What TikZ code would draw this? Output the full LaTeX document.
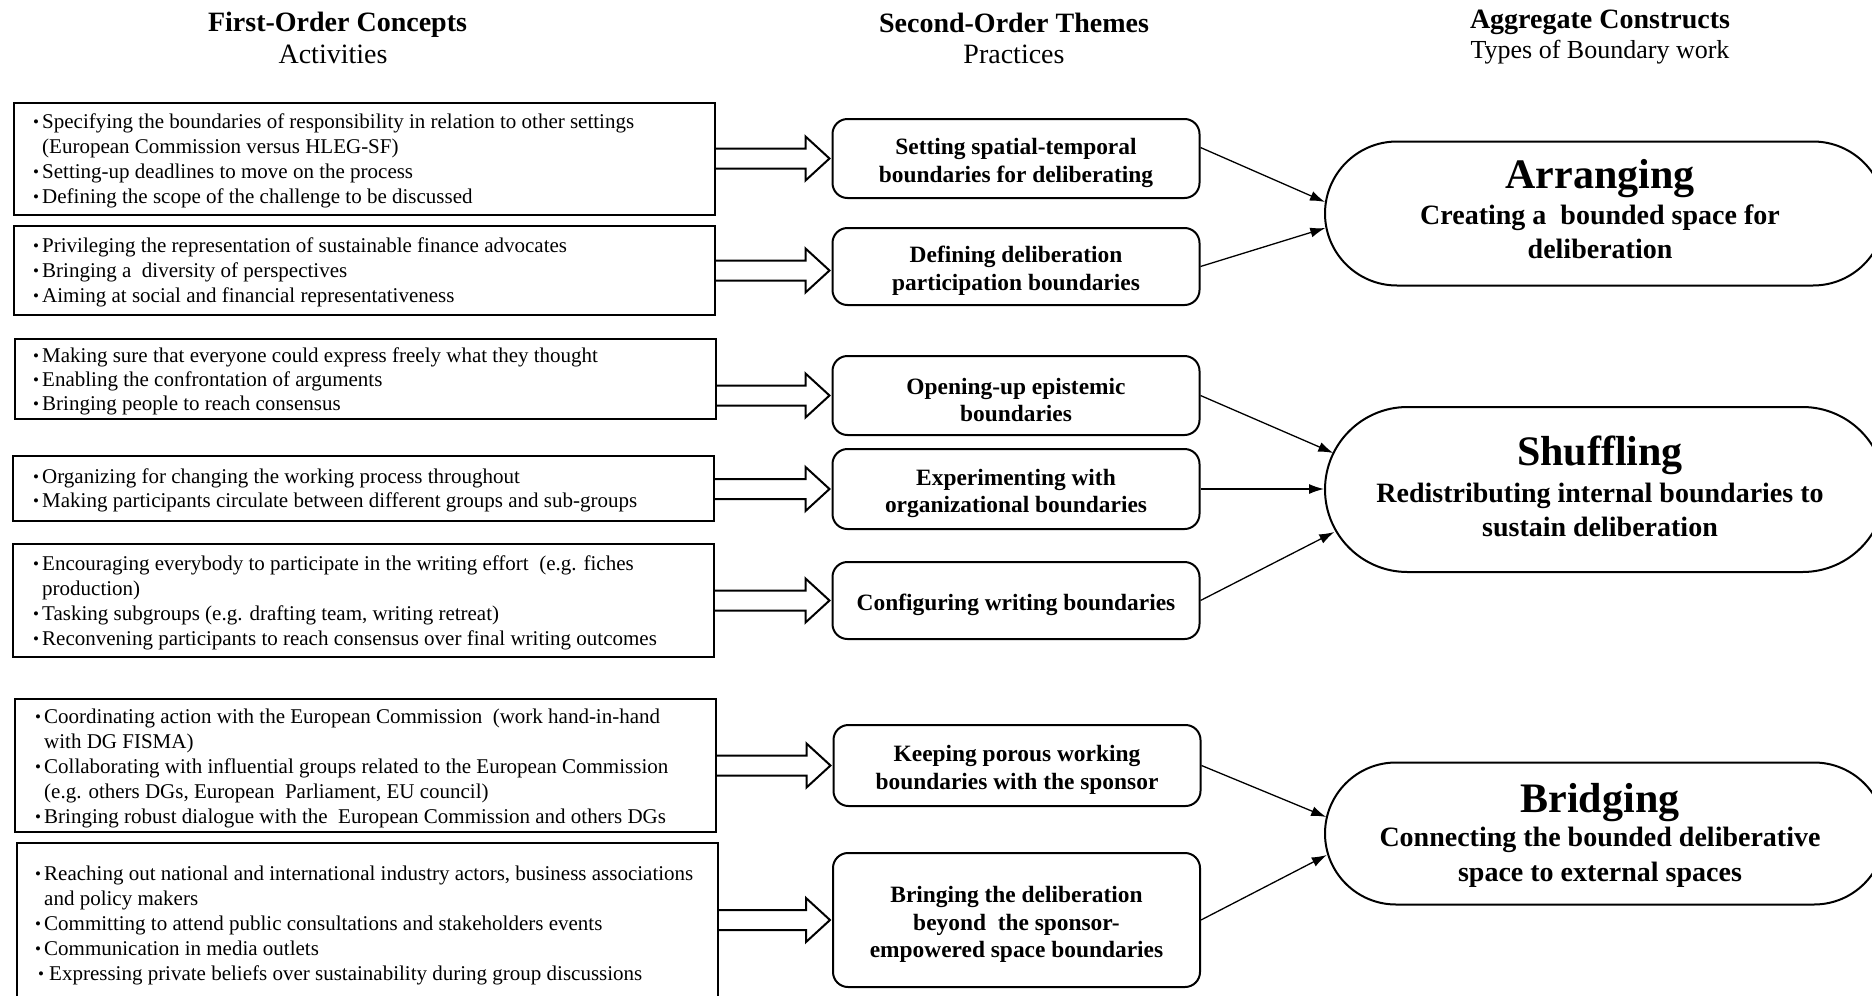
\documentclass[tikz,border=0pt]{standalone}
\usepackage{fontspec}
\setmainfont{Liberation Serif}
\usetikzlibrary{shapes.misc,arrows.meta,calc}

\newcommand\fhead{\fontsize{28}{33}\selectfont}
\newcommand\fheadsmall{\fontsize{26}{31}\selectfont}
\newcommand\fbody{\fontsize{21}{25}\selectfont}
\newcommand\fbodyb{\fontsize{21}{24}\selectfont}
\newcommand\fmid{\fontsize{23.4}{27.5}\selectfont\bfseries}
\newcommand\ftitle{\fontsize{42}{48}\selectfont\bfseries}
\newcommand\fsub{\fontsize{28}{34.5}\selectfont\bfseries}
\newcommand\bul{\makebox[9pt][l]{\raisebox{0.8pt}{\fontsize{17}{17}\selectfont\textbullet}}}
\newcommand\ind{\hspace*{9pt}}
\newcommand\mst{\rule{0pt}{25pt}}
\newcommand\blockarrow[2]{%
  \draw[blk] ($(#1)+(0,-10)$) -- ($(#2)+(-24,-10)$) -- ($(#2)+(-24,-22)$) -- (#2)
    -- ($(#2)+(-24,22)$) -- ($(#2)+(-24,10)$) -- ($(#1)+(0,10)$);}

\tikzset{
  lbox/.style={draw, line width=2pt, minimum width=701pt, inner sep=0pt},
  ltext/.style={anchor=base west, inner sep=0pt},
  mbox/.style={draw, line width=2pt, rounded corners=15pt, minimum width=367pt,
    align=center, font=\fmid, inner sep=0pt},
  agg/.style={draw, line width=2pt, rounded rectangle, minimum width=560pt, inner sep=0pt},
  aggt/.style={anchor=base, inner sep=0pt, font=\ftitle},
  aggs/.style={anchor=base, inner sep=0pt, font=\fsub},
  hd/.style={anchor=base, inner sep=0pt},
  blk/.style={line width=2pt, line join=miter},
  conn/.style={line width=1.3pt, -{Latex[length=15pt,width=10pt]}}
}

\begin{document}
\begin{tikzpicture}[x=1pt,y=-1pt]
\useasboundingbox (0,0) rectangle (1872,996);

% headers
\node[hd, font=\fhead\bfseries] (h1) at (337.5,31.7) {First-Order Concepts};
\node[hd, font=\fhead] (h1b) at (333,63.3) {Activities};
\node[hd, font=\fhead\bfseries] (h2) at (1014,32) {Second-Order Themes};
\node[hd, font=\fhead] (h2b) at (1014,63) {Practices};
\node[hd, font=\fhead\bfseries] (h3) at (1600,28.3) {Aggregate Constructs};
\node[hd, font=\fheadsmall] (h3b) at (1600,58.3) {Types of Boundary work};

% left boxes
\node[lbox, minimum height=112pt] (L1) at (364,159) {};
\node[lbox, minimum height=89pt] (L2) at (364,270.5) {};
\node[lbox, minimum height=80pt] (L3) at (365.5,379) {};
\node[lbox, minimum height=65pt] (L4) at (363.5,488.5) {};
\node[lbox, minimum height=113pt] (L5) at (363.5,600.5) {};
\node[lbox, minimum height=133pt] (L6) at (365.5,765.5) {};
\node[lbox, minimum height=167pt] (L7) at (367,926.5) {};

\node[ltext] (T1) at (33,128) {\parbox[t]{700pt}{\fbody
\bul Specifying the boundaries of responsibility in relation to other settings\\
\ind (European Commission versus HLEG-SF)\\
\bul Setting-up deadlines to move on the process\\
\bul Defining the scope of the challenge to be discussed}};

\node[ltext] (T2) at (33,252) {\parbox[t]{700pt}{\fbody
\bul Privileging the representation of sustainable finance advocates\\
\bul Bringing a~ diversity of perspectives\\
\bul Aiming at social and financial representativeness}};

\node[ltext] (T3) at (33,362) {\parbox[t]{700pt}{\fbodyb
\bul Making sure that everyone could express freely what they thought\\
\bul Enabling the confrontation of arguments\\
\bul Bringing people to reach consensus}};

\node[ltext] (T4) at (33,483) {\parbox[t]{700pt}{\fbodyb
\bul Organizing for changing the working process throughout\\
\bul Making participants circulate between different groups and sub-groups}};

\node[ltext] (T5) at (33,570) {\parbox[t]{700pt}{\fbody
\bul Encouraging everybody to participate in the writing effort~ (e.g. fiches\\
\ind production)\\
\bul Tasking subgroups (e.g. drafting team, writing retreat)\\
\bul Reconvening participants to reach consensus over final writing outcomes}};

\node[ltext] (T6) at (35,723) {\parbox[t]{700pt}{\fbody
\bul Coordinating action with the European Commission~ (work hand-in-hand\\
\ind with DG FISMA)\\
\bul Collaborating with influential groups related to the European Commission\\
\ind (e.g. others DGs, European~ Parliament, EU council)\\
\bul Bringing robust dialogue with the~ European Commission and others DGs}};

\node[ltext] (T7) at (35,880) {\parbox[t]{700pt}{\fbody
\bul Reaching out national and international industry actors, business associations\\
\ind and policy makers\\
\bul Committing to attend public consultations and stakeholders events\\
\bul Communication in media outlets\\
\hspace*{3pt}\bul\hspace{2pt}Expressing private beliefs over sustainability during group discussions}};

% middle boxes
\node[mbox, minimum height=79pt] (M1) at (1016,158.5) {\mst Setting spatial-temporal\\boundaries for deliberating};
\node[mbox, minimum height=77pt] (M2) at (1016,266.5) {\mst Defining deliberation\\participation boundaries};
\node[mbox, minimum height=79pt] (M3) at (1016,395.5) {\mst Opening-up epistemic\\boundaries};
\node[mbox, minimum height=80pt] (M4) at (1016,489) {\mst Experimenting with\\organizational boundaries};
\node[mbox, minimum height=77pt] (M5) at (1016,600.5) {\mst Configuring writing boundaries};
\node[mbox, minimum height=81pt] (M6) at (1017,765.5) {\mst Keeping porous working\\boundaries with the sponsor};
\node[mbox, minimum height=134pt] (M7) at (1016.5,920) {\mst Bringing the deliberation\\beyond~ the sponsor-\\empowered space boundaries};

% block arrows
\coordinate (b1s) at (L1.east |- M1.west); \coordinate (b1t) at ([xshift=-2pt]M1.west);
\coordinate (b2s) at (L2.east); \coordinate (b2t) at ([xshift=-2pt]M2.west |- L2.east);
\coordinate (b3s) at (L3.east |- M3.west); \coordinate (b3t) at ([xshift=-2pt]M3.west);
\coordinate (b4s) at (L4.east |- M4.west); \coordinate (b4t) at ([xshift=-2pt]M4.west);
\coordinate (b5s) at (L5.east |- M5.west); \coordinate (b5t) at ([xshift=-2pt]M5.west);
\coordinate (b6s) at (L6.east |- M6.west); \coordinate (b6t) at ([xshift=-2pt]M6.west);
\coordinate (b7s) at (L7.east |- M7.west); \coordinate (b7t) at ([xshift=-2pt]M7.west);
\blockarrow{b1s}{b1t}
\blockarrow{b2s}{b2t}
\blockarrow{b3s}{b3t}
\blockarrow{b4s}{b4t}
\blockarrow{b5s}{b5t}
\blockarrow{b6s}{b6t}
\blockarrow{b7s}{b7t}

% aggregate constructs
\node[agg, minimum height=144pt] (S1) at (1605,213.5) {};
\node[agg, minimum height=165pt] (S2) at (1605,489.5) {};
\node[agg, minimum height=142pt] (S3) at (1605,833.5) {};

\node[aggt] (S1t) at (1600,188) {Arranging};
\node[aggs] (S1s) at (1600,224) {\parbox[t]{500pt}{\centering Creating a~ bounded space for\\deliberation}};
\node[aggt] (S2t) at (1600,465) {Shuffling};
\node[aggs] (S2s) at (1600,502) {\parbox[t]{500pt}{\centering Redistributing internal boundaries to\\sustain deliberation}};
\node[aggt] (S3t) at (1600,812) {Bridging};
\node[aggs] (S3s) at (1600,846.5) {\parbox[t]{500pt}{\centering Connecting the bounded deliberative\\space to external spaces}};

% connectors
\draw[conn] ([yshift=11pt]M1.east) -- ([xshift=1pt,yshift=11.5pt]S1.west);
\draw[conn] (M2.east) -- ([xshift=1.3pt,yshift=-14.5pt]S1.west);
\draw[conn] (M3.east) -- ([xshift=9.3pt,yshift=36.5pt]S2.west);
\draw[conn] (M4.east) -- (S2.west |- M4.east);
\draw[conn] (M5.east) -- ([xshift=10.3pt,yshift=-42.5pt]S2.west);
\draw[conn] (M6.east) -- ([xshift=2.2pt,yshift=16.5pt]S3.west);
\draw[conn] (M7.east) -- ([xshift=2.8pt,yshift=-21.5pt]S3.west);
\end{tikzpicture}
\end{document}
